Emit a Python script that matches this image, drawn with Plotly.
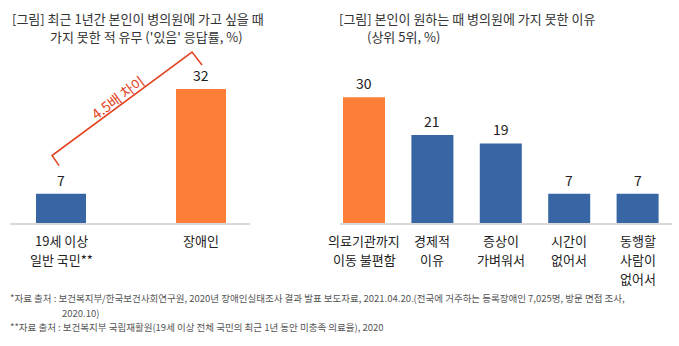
import plotly.graph_objects as go

# ---- data ----
left_categories = ["19세 이상<br>일반 국민**", "장애인"]
left_values = [7, 32]
right_categories = ["의료기관까지<br>이동 불편함", "경제적<br>이유", "증상이<br>가벼워서", "시간이<br>없어서", "동행할<br>사람이<br>없어서"]
right_values = [30, 21, 19, 7, 7]
left_title = ["[그림] 최근 1년간 본인이 병의원에 가고 싶을 때", "가지 못한 적 유무 ('있음' 응답률, %)"]
right_title = ["[그림] 본인이 원하는 때 병의원에 가지 못한 이유", "(상위 5위, %)"]
ratio_label = "4.5배 차이"
footnotes = [
    "*자료 출처 : 보건복지부/한국보건사회연구원, 2020년 장애인실태조사 결과 발표 보도자료, 2021.04.20.(전국에 거주하는 등록장애인 7,025명, 방문 면접 조사,",
    "2020.10)",
    "**자료 출처 : 보건복지부 국립재활원(19세 이상 전체 국민의 최근 1년 동안 미충족 의료율), 2020",
]

# ---- style ----
W, H = 679, 346
BLUE = "#3865A3"
ORANGE = "#FD7E36"
RED = "#E2431E"
FONT = "Noto Sans CJK KR"
BASE_PX = 223          # baseline pixel row
PX_PER_UNIT = 4.19     # vertical pixels per percentage point
left_colors = [BLUE, ORANGE]
right_colors = [ORANGE, BLUE, BLUE, BLUE, BLUE]

def px(x):
    return x / W

def py(y):
    return 1 - y / H

fig = go.Figure()
fig.add_trace(go.Bar(x=list(range(len(left_values))), y=left_values, width=0.357,
                     marker=dict(color=left_colors, line=dict(width=0)),
                     xaxis="x", yaxis="y", hoverinfo="skip"))
fig.add_trace(go.Bar(x=list(range(len(right_values))), y=right_values, width=0.614,
                     marker=dict(color=right_colors, line=dict(width=0)),
                     xaxis="x2", yaxis="y", hoverinfo="skip"))

y_top = BASE_PX / PX_PER_UNIT
ann = []
# value labels
for xr, vals in (("x", left_values), ("x2", right_values)):
    for i, v in enumerate(vals):
        ann.append(dict(x=i, y=v, xref=xr, yref="y", text=str(v), showarrow=False,
                        yanchor="middle", yshift=14, font=dict(size=14, color="#222", family=FONT)))
# category labels, one annotation per line
for xr, cats in (("x", left_categories), ("x2", right_categories)):
    for i, c in enumerate(cats):
        for j, line in enumerate(c.split("<br>")):
            ann.append(dict(x=i, y=0, xref=xr, yref="y", text=line, showarrow=False,
                            yanchor="middle", yshift=-17 - 19 * j,
                            font=dict(size=13, color="#222", family=FONT)))
# titles
title_pos = [(left_title[0], 10, 19), (left_title[1], 48, 36),
             (right_title[0], 337, 19), (right_title[1], 365, 36)]
for t, x0, y0 in title_pos:
    ann.append(dict(x=px(x0), y=py(y0), xref="paper", yref="paper", text=t, showarrow=False,
                    xanchor="left", yanchor="middle", font=dict(size=13, color="#333", family=FONT)))
# footnotes
for t, x0, y0 in ((footnotes[0], 8, 298), (footnotes[1], 60, 313), (footnotes[2], 8, 327)):
    ann.append(dict(x=px(x0), y=py(y0), xref="paper", yref="paper", text=t, showarrow=False,
                    xanchor="left", yanchor="middle", font=dict(size=9.5, color="#555", family=FONT)))

# bracket showing the ratio between the two left bars
lx, ly = -0.064, left_values[0] + 9.1
rx, ry = 1 - 0.064, left_values[1] + 8.8
path = (f"M {lx + 0.05} {ly - 2.4} L {lx} {ly} L {rx} {ry} L {rx + 0.071} {ry - 3.1}")
shapes = [dict(type="path", path=path, xref="x", yref="y", line=dict(color=RED, width=1.5))]
ann.append(dict(x=(lx + rx) / 2 - 0.03, y=(ly + ry) / 2 + 1.6, xref="x", yref="y",
                text=ratio_label, showarrow=False, textangle=-36.6,
                font=dict(size=14, color=RED, family=FONT)))

fig.update_layout(
    width=W, height=H, margin=dict(l=0, r=0, t=0, b=0),
    paper_bgcolor="white", plot_bgcolor="white", showlegend=False,
    xaxis=dict(domain=[px(10), px(250)], range=[-51 / 140, 189 / 140], anchor="y",
               showline=True, linecolor="#D9D9D9", linewidth=2, showgrid=False,
               zeroline=False, showticklabels=False, ticks="", fixedrange=True),
    xaxis2=dict(domain=[px(340), px(672)], range=[-24 / 68.4, 308 / 68.4], anchor="y",
                showline=True, linecolor="#D9D9D9", linewidth=2, showgrid=False,
                zeroline=False, showticklabels=False, ticks="", fixedrange=True),
    yaxis=dict(domain=[1 - BASE_PX / H, 1], range=[0, y_top], visible=False, fixedrange=True),
    annotations=ann, shapes=shapes,
)
fig.write_html("out.html")
